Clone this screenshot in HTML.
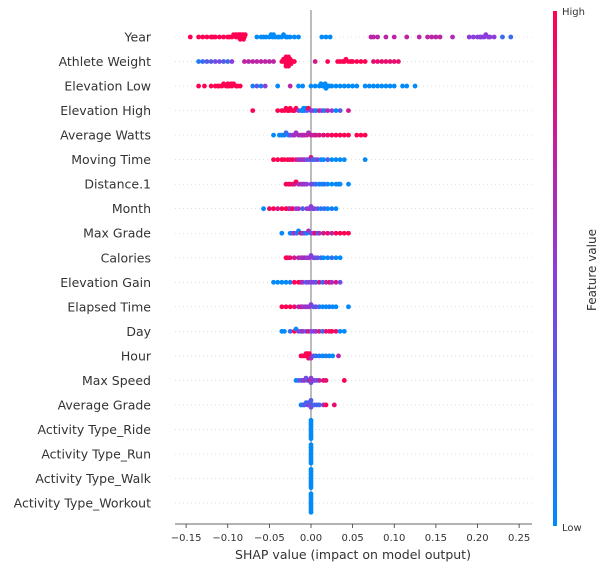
<!DOCTYPE html>
<html><head><meta charset="utf-8"><style>
body{margin:0;background:#fff;}
svg{display:block;font-family:"DejaVu Sans","Liberation Sans",sans-serif;}
</style></head><body>
<svg id="chart" width="607" height="568"></svg>
<script>
const features=["Year","Athlete Weight","Elevation Low","Elevation High","Average Watts","Moving Time","Distance.1","Month","Max Grade","Calories","Elevation Gain","Elapsed Time","Day","Hour","Max Speed","Average Grade","Activity Type_Ride","Activity Type_Run","Activity Type_Walk","Activity Type_Workout"];
const xTicks=[-0.15,-0.10,-0.05,0.00,0.05,0.10,0.15,0.20,0.25];
const xTickLabels=["−0.15","−0.10","−0.05","0.00","0.05","0.10","0.15","0.20","0.25"];
// each row: [shap, featureValue] pairs
const rowYear=[[-0.145,1],[-0.135,1],[-0.13,1],[-0.125,1],[-0.12,1],[-0.118,1],[-0.115,1],[-0.11,1],[-0.105,1],[-0.1,1],[-0.098,1],[-0.095,1],[-0.093,1],[-0.09,1],[-0.09,1],[-0.088,1],[-0.087,1],[-0.086,1],[-0.085,1],[-0.085,1],[-0.083,1],[-0.082,1],[-0.081,1],[-0.08,1],[-0.079,1],[-0.065,0],[-0.06,0],[-0.057,0],[-0.054,0],[-0.05,0],[-0.048,0],[-0.046,0],[-0.045,0],[-0.043,0],[-0.04,0],[-0.038,0],[-0.035,0],[-0.033,0],[-0.03,0],[-0.028,0],[-0.025,0],[-0.02,0],[-0.015,0],[0.013,0],[0.018,0],[0.023,0],[0.072,0.7],[0.075,0.7],[0.08,0.7],[0.09,0.7],[0.1,0.7],[0.115,0.7],[0.13,0.7],[0.14,0.7],[0.145,0.7],[0.15,0.7],[0.155,0.7],[0.17,0.65],[0.19,0.5],[0.195,0.5],[0.2,0.5],[0.203,0.5],[0.205,0.5],[0.208,0.5],[0.21,0.5],[0.213,0.5],[0.215,0.5],[0.22,0.5],[0.23,0.2],[0.24,0.2]];
const rowWeight=[[-0.135,0.1],[-0.13,0.2],[-0.125,0.3],[-0.12,0.3],[-0.115,0.4],[-0.11,0.4],[-0.105,0.3],[-0.1,0.2],[-0.095,0.5],[-0.08,0.7],[-0.075,0.7],[-0.07,0.7],[-0.065,0.7],[-0.06,0.7],[-0.055,0.7],[-0.05,0.7],[-0.045,0.7],[-0.035,1],[-0.033,1],[-0.032,1],[-0.031,1],[-0.03,1],[-0.03,1],[-0.029,1],[-0.028,1],[-0.028,1],[-0.027,1],[-0.026,1],[-0.025,1],[-0.024,1],[-0.022,1],[-0.02,1],[-0.03,1],[-0.027,1],[0.005,0.8],[0.02,1],[0.032,1],[0.035,1],[0.038,1],[0.04,1],[0.042,1],[0.045,1],[0.048,1],[0.05,1],[0.055,1],[0.06,1],[0.065,1],[0.075,0.9],[0.08,0.9],[0.085,0.9],[0.09,0.9],[0.095,0.9],[0.1,0.9],[0.105,0.9]];
const rowElevLow=[[-0.135,1],[-0.128,1],[-0.12,1],[-0.115,1],[-0.112,1],[-0.11,1],[-0.107,1],[-0.105,1],[-0.102,1],[-0.1,1],[-0.1,1],[-0.098,1],[-0.096,1],[-0.095,1],[-0.093,1],[-0.09,1],[-0.088,1],[-0.085,1],[-0.07,0.1],[-0.065,0.3],[-0.06,0.1],[-0.055,0.5],[-0.04,0],[-0.025,0.7],[-0.015,0],[-0.01,0],[0.0,0],[0.005,0],[0.01,0],[0.012,0],[0.014,0],[0.016,0],[0.017,0],[0.018,0],[0.02,0],[0.022,0],[0.025,0],[0.03,0],[0.035,0],[0.04,0],[0.045,0],[0.05,0],[0.055,0],[0.065,0],[0.07,0],[0.075,0],[0.08,0],[0.085,0],[0.09,0],[0.095,0],[0.1,0],[0.11,0],[0.115,0],[0.125,0]];
const rowElevHigh=[[-0.07,1],[-0.04,1],[-0.035,1],[-0.032,1],[-0.03,1],[-0.028,1],[-0.026,1],[-0.025,1],[-0.022,1],[-0.02,1],[-0.018,1],[-0.015,0.5],[-0.012,0],[-0.01,0],[-0.009,0],[-0.008,0],[-0.006,0],[-0.005,0.3],[-0.003,1],[0.0,0.5],[0.003,0.5],[0.006,0],[0.01,0.8],[0.013,0.5],[0.016,0.1],[0.02,0.7],[0.025,0.5],[0.03,0],[0.035,0.3],[0.045,0.8]];
const rowWatts=[[-0.045,0],[-0.038,0],[-0.035,0],[-0.032,0.1],[-0.03,0.2],[-0.027,0],[-0.025,0.4],[-0.022,0.5],[-0.02,0.6],[-0.018,0.6],[-0.015,0.6],[-0.012,0.7],[-0.01,0.6],[-0.008,0.7],[-0.005,0.7],[-0.003,0.6],[0.0,0.8],[0.003,0.7],[0.006,0.8],[0.01,0.8],[0.015,0.9],[0.02,0.9],[0.025,1],[0.03,1],[0.035,1],[0.04,1],[0.045,1],[0.055,1],[0.06,1],[0.065,1]];
const rowMoving=[[-0.045,1],[-0.04,1],[-0.035,1],[-0.032,1],[-0.028,1],[-0.025,0.9],[-0.022,1],[-0.018,0.8],[-0.015,0.6],[-0.012,0.7],[-0.01,0.5],[-0.008,0.6],[-0.005,0.4],[-0.002,0.3],[0.0,0.8],[0.002,0.3],[0.005,0.2],[0.008,0.5],[0.012,0],[0.015,0],[0.02,0.3],[0.025,0],[0.03,0],[0.035,0],[0.04,0],[0.065,0]];
const rowDist=[[-0.03,1],[-0.027,1],[-0.025,0.9],[-0.022,1],[-0.02,0.8],[-0.018,1],[-0.015,0.6],[-0.012,0.7],[-0.01,0.5],[-0.008,0.6],[-0.005,0.5],[0.0,0.5],[0.003,0.3],[0.006,0.2],[0.01,0.1],[0.013,0],[0.016,0.2],[0.02,0],[0.025,0],[0.03,0],[0.033,0],[0.035,0],[0.045,0]];
const rowMonth=[[-0.057,0],[-0.05,0.9],[-0.045,1],[-0.04,0.8],[-0.035,1],[-0.03,1],[-0.027,0.9],[-0.025,0.6],[-0.022,1],[-0.018,0.5],[-0.015,0.6],[-0.01,0.3],[-0.005,0.5],[-0.002,0.6],[0.0,0.5],[0.002,0.4],[0.004,0.5],[0.008,0.3],[0.012,0.1],[0.016,0.2],[0.02,0],[0.025,0.1],[0.03,0]];
const rowGrade=[[-0.035,0],[-0.025,0],[-0.022,0.3],[-0.02,0.6],[-0.017,0.2],[-0.015,0],[-0.012,1],[-0.01,0.3],[-0.008,0.5],[-0.005,0],[-0.003,0.6],[0.0,0.4],[0.003,0.5],[0.005,1],[0.008,0.2],[0.01,0.6],[0.015,0.8],[0.02,0.9],[0.025,0.7],[0.03,1],[0.035,1],[0.04,1],[0.045,1]];
const rowCal=[[-0.03,1],[-0.028,1],[-0.025,0.9],[-0.02,0.8],[-0.015,0.7],[-0.012,0.6],[-0.01,0.5],[-0.008,0.7],[-0.005,0.5],[-0.002,0.6],[0.0,0.5],[0.003,0.5],[0.005,0.3],[0.008,0.4],[0.012,0.2],[0.015,0],[0.02,0],[0.025,0.2],[0.03,0],[0.035,0]];
const rowGain=[[-0.045,0],[-0.04,0],[-0.035,0],[-0.03,0],[-0.025,0.1],[-0.02,1],[-0.015,1],[-0.012,0.8],[-0.01,0.6],[-0.006,0.3],[-0.003,0.5],[0.0,0.4],[0.003,0.5],[0.006,0.3],[0.01,0.8],[0.014,0.2],[0.018,0.7],[0.022,0.9],[0.025,0.6],[0.03,0.8],[0.035,0.4]];
const rowElapsed=[[-0.035,1],[-0.03,1],[-0.025,1],[-0.02,0.9],[-0.015,0.6],[-0.012,1],[-0.01,0.5],[-0.007,0.7],[-0.005,0.5],[-0.002,0.6],[0.0,0.5],[0.003,0.3],[0.006,0.4],[0.01,0.2],[0.014,0],[0.018,0],[0.022,0.1],[0.026,0],[0.03,0],[0.045,0]];
const rowDay=[[-0.035,0],[-0.032,0],[-0.025,0.2],[-0.02,1],[-0.018,0],[-0.015,0.5],[-0.012,0.3],[-0.01,0.6],[-0.006,0.4],[-0.003,0.9],[0.0,0.5],[0.003,0.4],[0.006,0.6],[0.01,0.8],[0.014,0.2],[0.018,0.9],[0.022,0.9],[0.025,1],[0.03,0.9],[0.035,0],[0.04,0]];
const rowHour=[[-0.012,1],[-0.01,1],[-0.008,1],[-0.006,1],[-0.005,1],[-0.004,1],[-0.003,1],[-0.002,1],[-0.002,1],[0.0,0.6],[0.003,0.3],[0.006,0.2],[0.01,0.1],[0.014,0],[0.018,0.1],[0.022,0],[0.026,0],[0.033,0.7]];
const rowSpeed=[[-0.018,0],[-0.015,0.2],[-0.012,0.5],[-0.01,0.3],[-0.008,0.6],[-0.006,0.4],[-0.004,0.2],[-0.002,0.8],[0.0,0.5],[0.0,0.4],[0.002,0.6],[0.004,0.5],[0.007,0.3],[0.01,0.7],[0.015,0.9],[0.018,0.9],[0.04,1]];
const rowAvgGrade=[[-0.012,0],[-0.01,0.2],[-0.008,0.3],[-0.006,0.2],[-0.004,0.4],[-0.003,0.3],[-0.002,0.5],[-0.001,0.3],[0.0,0.4],[0.0,0.3],[0.002,0.4],[0.004,0.2],[0.007,0.3],[0.01,0.2],[0.015,0.6],[0.018,1],[0.028,0.9]];
const rowRide=[[0,0],[0,0],[0,0],[0,0],[0,0],[0,0],[0,0],[0,0],[0,0]];
const rowRun=[[0,0],[0,0],[0,0],[0,0],[0,0],[0,0],[0,0],[0,0],[0,0]];
const rowWalk=[[0,0],[0,0],[0,0],[0,0],[0,0],[0,0],[0,0],[0,0],[0,0]];
const rowWorkout=[[0,0],[0,0],[0,0],[0,0],[0,0],[0,0],[0,0],[0,0],[0,0]];
const rows=[rowYear,rowWeight,rowElevLow,rowElevHigh,rowWatts,rowMoving,rowDist,rowMonth,rowGrade,rowCal,rowGain,rowElapsed,rowDay,rowHour,rowSpeed,rowAvgGrade,rowRide,rowRun,rowWalk,rowWorkout];

const NS="http://www.w3.org/2000/svg";
const svg=document.getElementById('chart');
function mk(tag,attrs,parent){const e=document.createElementNS(NS,tag);for(const k in attrs)e.setAttribute(k,attrs[k]);(parent||svg).appendChild(e);return e;}
const X0=311,XS=832.5;
const xScale=v=>X0+v*XS;
const yRow=i=>37+i*24.53;
function color(t){
  const lo=[0,138,250],mid=[140,60,220],hi=[255,0,82];
  let a,b,u;if(t<0.5){a=lo;b=mid;u=t/0.5;}else{a=mid;b=hi;u=(t-0.5)/0.5;}
  return `rgb(${a.map((c,i)=>Math.round(c+(b[i]-c)*u)).join(',')})`;
}
features.forEach((f,i)=>{
  const g=mk('line',{x1:175,x2:532,y1:yRow(i),y2:yRow(i),stroke:'#ccc','stroke-width':0.6,'stroke-dasharray':'1,3'});
  
  
  const t=mk('text',{x:151,y:yRow(i)+4.5,'text-anchor':'end','font-size':12.5,fill:'#333'});
  t.textContent=f;
  
  
});
const zl=mk('line',{x1:X0,x2:X0,y1:10,y2:514,stroke:'#999','stroke-width':1.3});


rows.forEach((row,i)=>{
  const pts=row.map(p=>({x:xScale(p[0]),v:p[1]})).sort((a,b)=>a.x-b.x);
  const bins={};
  pts.forEach(p=>{const b=Math.round(p.x/2.5);(bins[b]=bins[b]||[]).push(p);});
  let maxOff=0;
  Object.values(bins).forEach(list=>{list.forEach((p,k)=>{p.off=((k+1)>>1)*(k%2?-1:1)*2.3;maxOff=Math.max(maxOff,Math.abs(p.off));});});
  const sc=maxOff>10?10/maxOff:1;
  pts.forEach(p=>{
    const c=mk('circle',{cx:p.x,cy:yRow(i)+p.off*sc,r:2.4,fill:color(p.v)});
    
    
  });
});
const ax=mk('line',{x1:175,x2:532,y1:524,y2:524,stroke:'#333','stroke-width':0.8});


xTicks.forEach((v,i)=>{
  const tk=mk('line',{x1:xScale(v),x2:xScale(v),y1:524,y2:528,stroke:'#333','stroke-width':0.8});
  
  
  const t=mk('text',{x:xScale(v),y:541,'text-anchor':'middle','font-size':10,fill:'#333'});
  t.textContent=xTickLabels[i];
  
  
});
const xt=mk('text',{x:353,y:559,'text-anchor':'middle','font-size':12.5,fill:'#333'});
xt.textContent='SHAP value (impact on model output)';


const defs=mk('defs',{});
const lg=mk('linearGradient',{id:'cb',x1:0,y1:1,x2:0,y2:0},defs);
[0,0.25,0.5,0.75,1].forEach(t=>mk('stop',{offset:t,'stop-color':color(t)},lg));
const cb=mk('rect',{x:553,y:11,width:4,height:515,fill:'url(#cb)'});


const hi=mk('text',{x:562,y:15,'font-size':10,fill:'#333'});hi.textContent='High';


const lo=mk('text',{x:562,y:531,'font-size':10,fill:'#333'});lo.textContent='Low';


const ft=mk('text',{x:596,y:270,'text-anchor':'middle','font-size':12,fill:'#333',transform:'rotate(-90 596 270)'});
ft.textContent='Feature value';


</script>
</body></html>
